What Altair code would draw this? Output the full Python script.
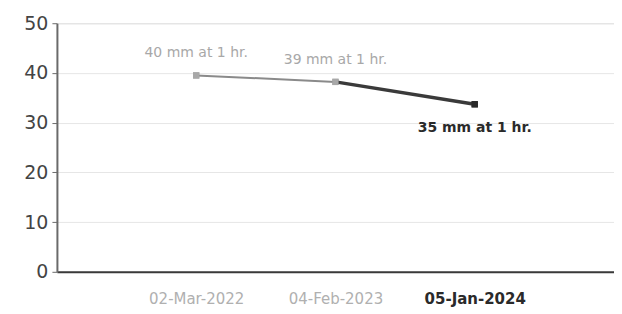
import altair as alt
import pandas as pd

dates = ["02-Mar-2022", "04-Feb-2023", "05-Jan-2024"]
values = [39.5, 38.2, 33.7]
point_labels = ["40 mm at 1 hr.", "39 mm at 1 hr.", "35 mm at 1 hr."]
point_colors = ["#a8a8a8", "#a8a8a8", "#2a2a2a"]

idx = list(range(len(dates)))
df = pd.DataFrame({"i": idx, "date": dates, "v": values, "lab": point_labels,
                   "col": point_colors})
seg = pd.DataFrame({"i": idx[:-1], "i2": idx[1:], "v": values[:-1], "v2": values[1:],
                    "col": ["#8a8a8a", "#3a3a3a"], "w": [2, 3.5]})

label_expr = "[" + ",".join("'%s'" % d for d in dates) + "][datum.value]"
FONT = "DejaVu Sans"

x = alt.X("i:Q", scale=alt.Scale(domain=[-1, 3], nice=False, zero=False),
          axis=alt.Axis(values=idx, labelExpr=label_expr, title=None, ticks=False, grid=False,
                        domainColor="#3a3a3a", domainWidth=2, labelFont=FONT,
                        labelFontSize=15, labelPadding=20,
                        labelColor={"condition": {"test": "datum.value == 2", "value": "#2a2a2a"}, "value": "#b0b0b0"},
                        labelFontWeight={"condition": {"test": "datum.value == 2", "value": "bold"}, "value": "normal"}))
y = alt.Y("v:Q", scale=alt.Scale(domain=[0, 50], nice=False),
          axis=alt.Axis(values=[0, 10, 20, 30, 40, 50], title=None, grid=True, gridColor="#e6e6e6",
                        gridWidth=1, domainColor="#6a6a6a", domainWidth=2, tickColor="#6a6a6a",
                        tickSize=5, labelFont=FONT, labelFontSize=19,
                        labelColor="#444444", labelPadding=4))

base = alt.Chart(df)
segs = alt.Chart(seg).mark_rule().encode(
    x=alt.X("i:Q"), x2="i2:Q", y=alt.Y("v:Q"), y2="v2:Q",
    color=alt.Color("col:N", scale=None), strokeWidth=alt.StrokeWidth("w:Q", scale=None))
pts = base.mark_square(size=40, opacity=1).encode(x=x, y=y, color=alt.Color("col:N", scale=None))
txt_top = alt.Chart(df[df.i < 2]).mark_text(font=FONT, fontSize=14, dy=-22).encode(
    x="i:Q", y="v:Q", text="lab:N", color=alt.Color("col:N", scale=None))
txt_bot = alt.Chart(df[df.i == 2]).mark_text(font=FONT, fontSize=14, fontWeight="bold", dy=24).encode(
    x="i:Q", y="v:Q", text="lab:N", color=alt.Color("col:N", scale=None))

chart = alt.layer(pts, segs, pts, txt_top, txt_bot).properties(
    width=558, height=249,
    autosize=alt.AutoSizeParams(type="none"),
    padding={"left": 49, "top": 15, "right": 0, "bottom": 36},
).configure_view(stroke=None).configure(background="white")

chart.save("out.html", embed_options={"renderer": "svg", "actions": False})
